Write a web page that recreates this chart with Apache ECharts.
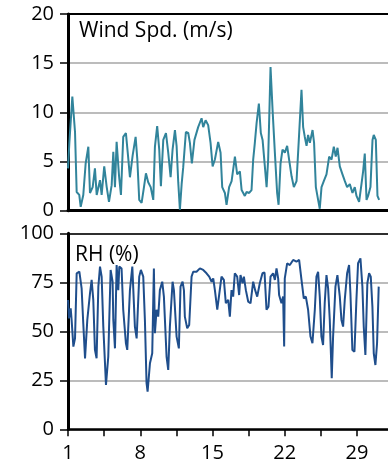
<!DOCTYPE html>
<html>
<head>
<meta charset="utf-8">
<script src="https://cdn.jsdelivr.net/npm/echarts@6/dist/echarts.min.js"></script>
<style>
html,body{margin:0;padding:0;background:#fff;}
#c{width:388px;height:466px;}
</style>
</head>
<body>
<div id="c"></div>
<script>
// Day of month (fractional) and wind speed (m/s)
var windDay = [
 1.00,1.13,1.42,1.68,1.84,2.09,2.23,2.48,2.71,2.97,
 3.13,3.39,3.61,3.78,4.10,4.26,4.51,4.75,4.97,5.23,
 5.39,5.55,5.71,5.94,6.13,6.35,6.61,6.84,7.00,7.26,
 7.55,7.71,7.90,8.13,8.36,8.55,8.77,9.01,9.26,9.42,
 9.64,9.84,10.00,10.23,10.49,10.71,10.94,11.13,11.36,11.52,
 11.68,11.84,12.01,12.16,12.42,12.65,12.81,13.00,13.25,13.61,
 13.94,14.10,14.33,14.58,14.81,15.01,15.23,15.55,15.78,15.94,
 16.20,16.36,16.61,16.85,17.17,17.39,17.65,17.82,18.13,18.30,
 18.55,18.78,18.94,19.10,19.27,19.49,19.68,19.85,20.07,20.24,
 20.39,20.62,20.82,21.04,21.26,21.40,21.59,21.78,22.01,22.23,
 22.42,22.66,22.88,23.14,23.36,23.62,23.78,23.94,24.11,24.26,
 24.43,24.69,24.84,25.01,25.23,25.39,25.56,25.78,26.04,26.30,
 26.53,26.75,26.94,27.11,27.33,27.59,27.82,28.04,28.30,28.56,
 28.78,28.95,29.20,29.43,29.59,29.75,29.92,30.07,30.30,30.50,
 30.62,30.82,30.98,31.14
];
var windSpeed = [
 4.3,6.9,11.6,8.0,1.9,1.6,0.4,1.6,4.8,6.5,
 1.8,2.4,4.3,1.6,3.1,1.6,4.5,2.4,0.9,2.6,
 6.0,2.4,7.0,3.6,1.6,7.5,7.9,5.3,3.4,5.6,
 7.5,5.3,1.1,0.8,2.4,3.8,2.9,2.4,1.1,6.5,
 8.6,6.2,2.5,7.2,7.9,5.9,3.4,6.2,8.2,6.6,
 2.9,0.1,2.7,4.4,8.0,7.9,6.9,4.8,7.2,8.5,
 9.4,8.5,9.2,8.7,6.9,4.5,5.2,7.0,5.9,2.4,
 1.8,0.6,2.4,3.0,5.5,3.7,4.0,2.1,1.5,1.9,
 1.8,2.1,5.2,6.9,8.9,10.9,7.9,7.2,4.5,2.4,
 5.2,14.6,10.2,5.9,1.8,0.6,4.8,6.2,5.9,6.6,
 5.2,3.5,2.4,3.0,7.2,12.3,8.5,7.5,6.6,7.7,
 6.9,8.2,6.9,2.4,1.1,0.2,2.4,3.0,3.7,5.5,
 5.2,6.5,5.5,6.4,4.5,3.7,3.0,2.4,2.7,1.8,
 2.4,1.5,0.9,2.7,4.0,5.8,1.1,1.5,2.4,7.2,
 7.7,7.2,1.5,1.1
];
// Day of month (fractional) and relative humidity (%)
var rhDay = [
 1.00,1.10,1.26,1.35,1.52,1.68,1.84,2.10,2.32,2.48,
 2.65,2.87,3.13,3.29,3.45,3.61,3.77,3.94,4.10,4.26,
 4.42,4.68,4.90,5.13,5.32,5.39,5.55,5.71,5.87,5.97,
 6.19,6.35,6.61,6.74,7.00,7.23,7.48,7.65,7.90,8.06,
 8.29,8.45,8.61,8.71,8.94,9.16,9.32,9.42,9.58,9.74,
 9.90,10.13,10.29,10.55,10.71,10.87,11.13,11.26,11.52,11.74,
 11.90,12.10,12.23,12.32,12.55,12.74,12.97,13.13,13.45,13.78,
 14.10,14.42,14.68,14.91,15.07,15.23,15.46,15.65,15.87,16.10,
 16.29,16.52,16.68,16.84,17.00,17.16,17.39,17.58,17.71,17.91,
 18.04,18.23,18.46,18.68,18.94,19.13,19.33,19.58,19.84,20.04,
 20.23,20.42,20.62,20.87,21.04,21.20,21.36,21.45,21.68,21.84,
 21.94,22.00,22.23,22.49,22.81,23.13,23.39,23.62,23.84,24.04,
 24.26,24.49,24.68,24.91,25.07,25.23,25.39,25.55,25.71,25.87,
 26.04,26.20,26.36,26.55,26.68,26.91,27.10,27.33,27.49,27.65,
 27.81,28.04,28.23,28.36,28.55,28.75,28.94,29.10,29.33,29.52,
 29.65,29.81,30.00,30.17,30.33,30.49,30.62,30.78,30.94,31.10
];
var rhValue = [
 66,56.6,61.7,55.8,42.2,46.4,79.6,80.4,71.9,54,
 36.2,55.8,69.4,76.2,66,40.5,36.2,72.8,83,77.9,
 52.4,22.6,37,81.3,75.3,55.8,41.3,83.8,71,83,
 82,61,43.9,40.5,71,83,52.4,46.4,77.9,81.3,
 77.9,55.8,23.5,19.2,33.7,38.8,82,49,61,57.5,
 71,75.3,67.7,37,30.3,52.4,75.3,71,47.3,41.3,
 72.8,75.3,71,57.5,51.5,53.2,77.9,80.4,80.4,82.1,
 81.3,79.6,77.9,75.3,77,71,61,61,77.9,76.2,
 64.3,66,57.5,71,67.7,79.6,77.9,68.5,78.7,74.5,
 77.9,71,65.1,64.3,75.3,71,67.7,74.5,79.6,80,
 61,62.6,77.9,79.6,76.2,82.1,77,68.5,64.3,67.7,
 42.2,77,84.7,83.8,86.4,85.5,86.4,76.2,66.8,67.7,
 61,47.3,43.9,61,77.9,80.4,67.7,47.3,43,64.3,
 78.7,71.9,55.8,26,47.3,72.8,78.7,67.7,55.8,52.4,
 66,79.6,83.8,69.4,40.5,39.6,66,84.7,87.2,72.8,
 52.4,37.9,74.5,79.6,77.9,62.6,38.8,32.8,43.9,72.8
];
var xTickLabels = ['1','8','15','22','29'];
var xTickDays = [1, 4.5, 8, 11.5, 15, 18.5, 22, 25.5, 29];
var windTicks = [0, 5, 10, 15, 20];
var rhTicks = [0, 25, 50, 75, 100];

function pairs(days, vals) {
  var out = [];
  var n = Math.min(days.length, vals.length);
  for (var i = 0; i < n; i++) out.push([days[i] - 1, vals[i]]);
  return out;
}

var FONT = 'Open Sans';
var black = '#000';
var gridGray = '#a6a6a6';

var chart = echarts.init(document.getElementById('c'), null, {renderer: 'canvas'});

function bottomAxis(gridIndex, withLabels) {
  return {
    type: 'value', gridIndex: gridIndex, position: 'bottom',
    min: 0, max: 31,
    axisLine: {show: true, onZero: false, lineStyle: {color: black, width: withLabels ? 2.5 : 3}},
    axisTick: {show: withLabels, inside: false, length: 7, lineStyle: {color: black, width: 1.5},
      customValues: xTickDays.map(function (d) { return d - 1; })},
    axisLabel: {
      show: withLabels, margin: 14, color: black, fontFamily: FONT, fontSize: 20,
      customValues: xTickLabels.map(function (s) { return Number(s) - 1; }),
      formatter: function (v) { return String(Math.round(v + 1)); }
    },
    splitLine: {show: false}
  };
}
function topAxis(gridIndex, w) {
  return {
    type: 'value', gridIndex: gridIndex, position: 'top', min: 0, max: 31,
    axisLine: {show: true, onZero: false, lineStyle: {color: black, width: w}},
    axisTick: {show: false}, axisLabel: {show: false}, splitLine: {show: false}
  };
}
function leftAxis(gridIndex, ticks) {
  return {
    type: 'value', gridIndex: gridIndex,
    min: ticks[0], max: ticks[ticks.length - 1], interval: ticks[1] - ticks[0],
    axisLine: {show: true, onZero: false, lineStyle: {color: black, width: 3}},
    axisTick: {show: true, inside: false, length: 8, lineStyle: {color: black, width: 1.5}},
    axisLabel: {margin: 14, color: black, fontFamily: FONT, fontSize: 20},
    splitLine: {show: true, lineStyle: {color: gridGray, width: 1.5}}
  };
}

var option = {
  animation: false,
  backgroundColor: '#fff',
  title: [
    {text: 'Wind Spd. (m/s)', left: 79, top: 21, padding: 0,
     textStyle: {fontFamily: FONT, fontSize: 21, fontWeight: 'normal', color: black}},
    {text: 'RH (%)', left: 75, top: 245, padding: 0,
     textStyle: {fontFamily: FONT, fontSize: 21, fontWeight: 'normal', color: black}}
  ],
  grid: [
    {left: 68, right: 0, top: 14, height: 196.7},
    {left: 68, right: 0, top: 233.3, bottom: 36.7}
  ],
  xAxis: [bottomAxis(0, false), topAxis(0, 2), bottomAxis(1, true), topAxis(1, 1.5)],
  yAxis: [leftAxis(0, windTicks), leftAxis(1, rhTicks)],
  series: [
    {type: 'line', xAxisIndex: 0, yAxisIndex: 0, data: pairs(windDay, windSpeed),
     showSymbol: false, symbol: 'none', lineStyle: {color: '#31849b', width: 2}, z: 3},
    {type: 'line', xAxisIndex: 2, yAxisIndex: 1, data: pairs(rhDay, rhValue),
     showSymbol: false, symbol: 'none', lineStyle: {color: '#1f4e8c', width: 2}, z: 3}
  ]
};
chart.setOption(option);
</script>
</body>
</html>
